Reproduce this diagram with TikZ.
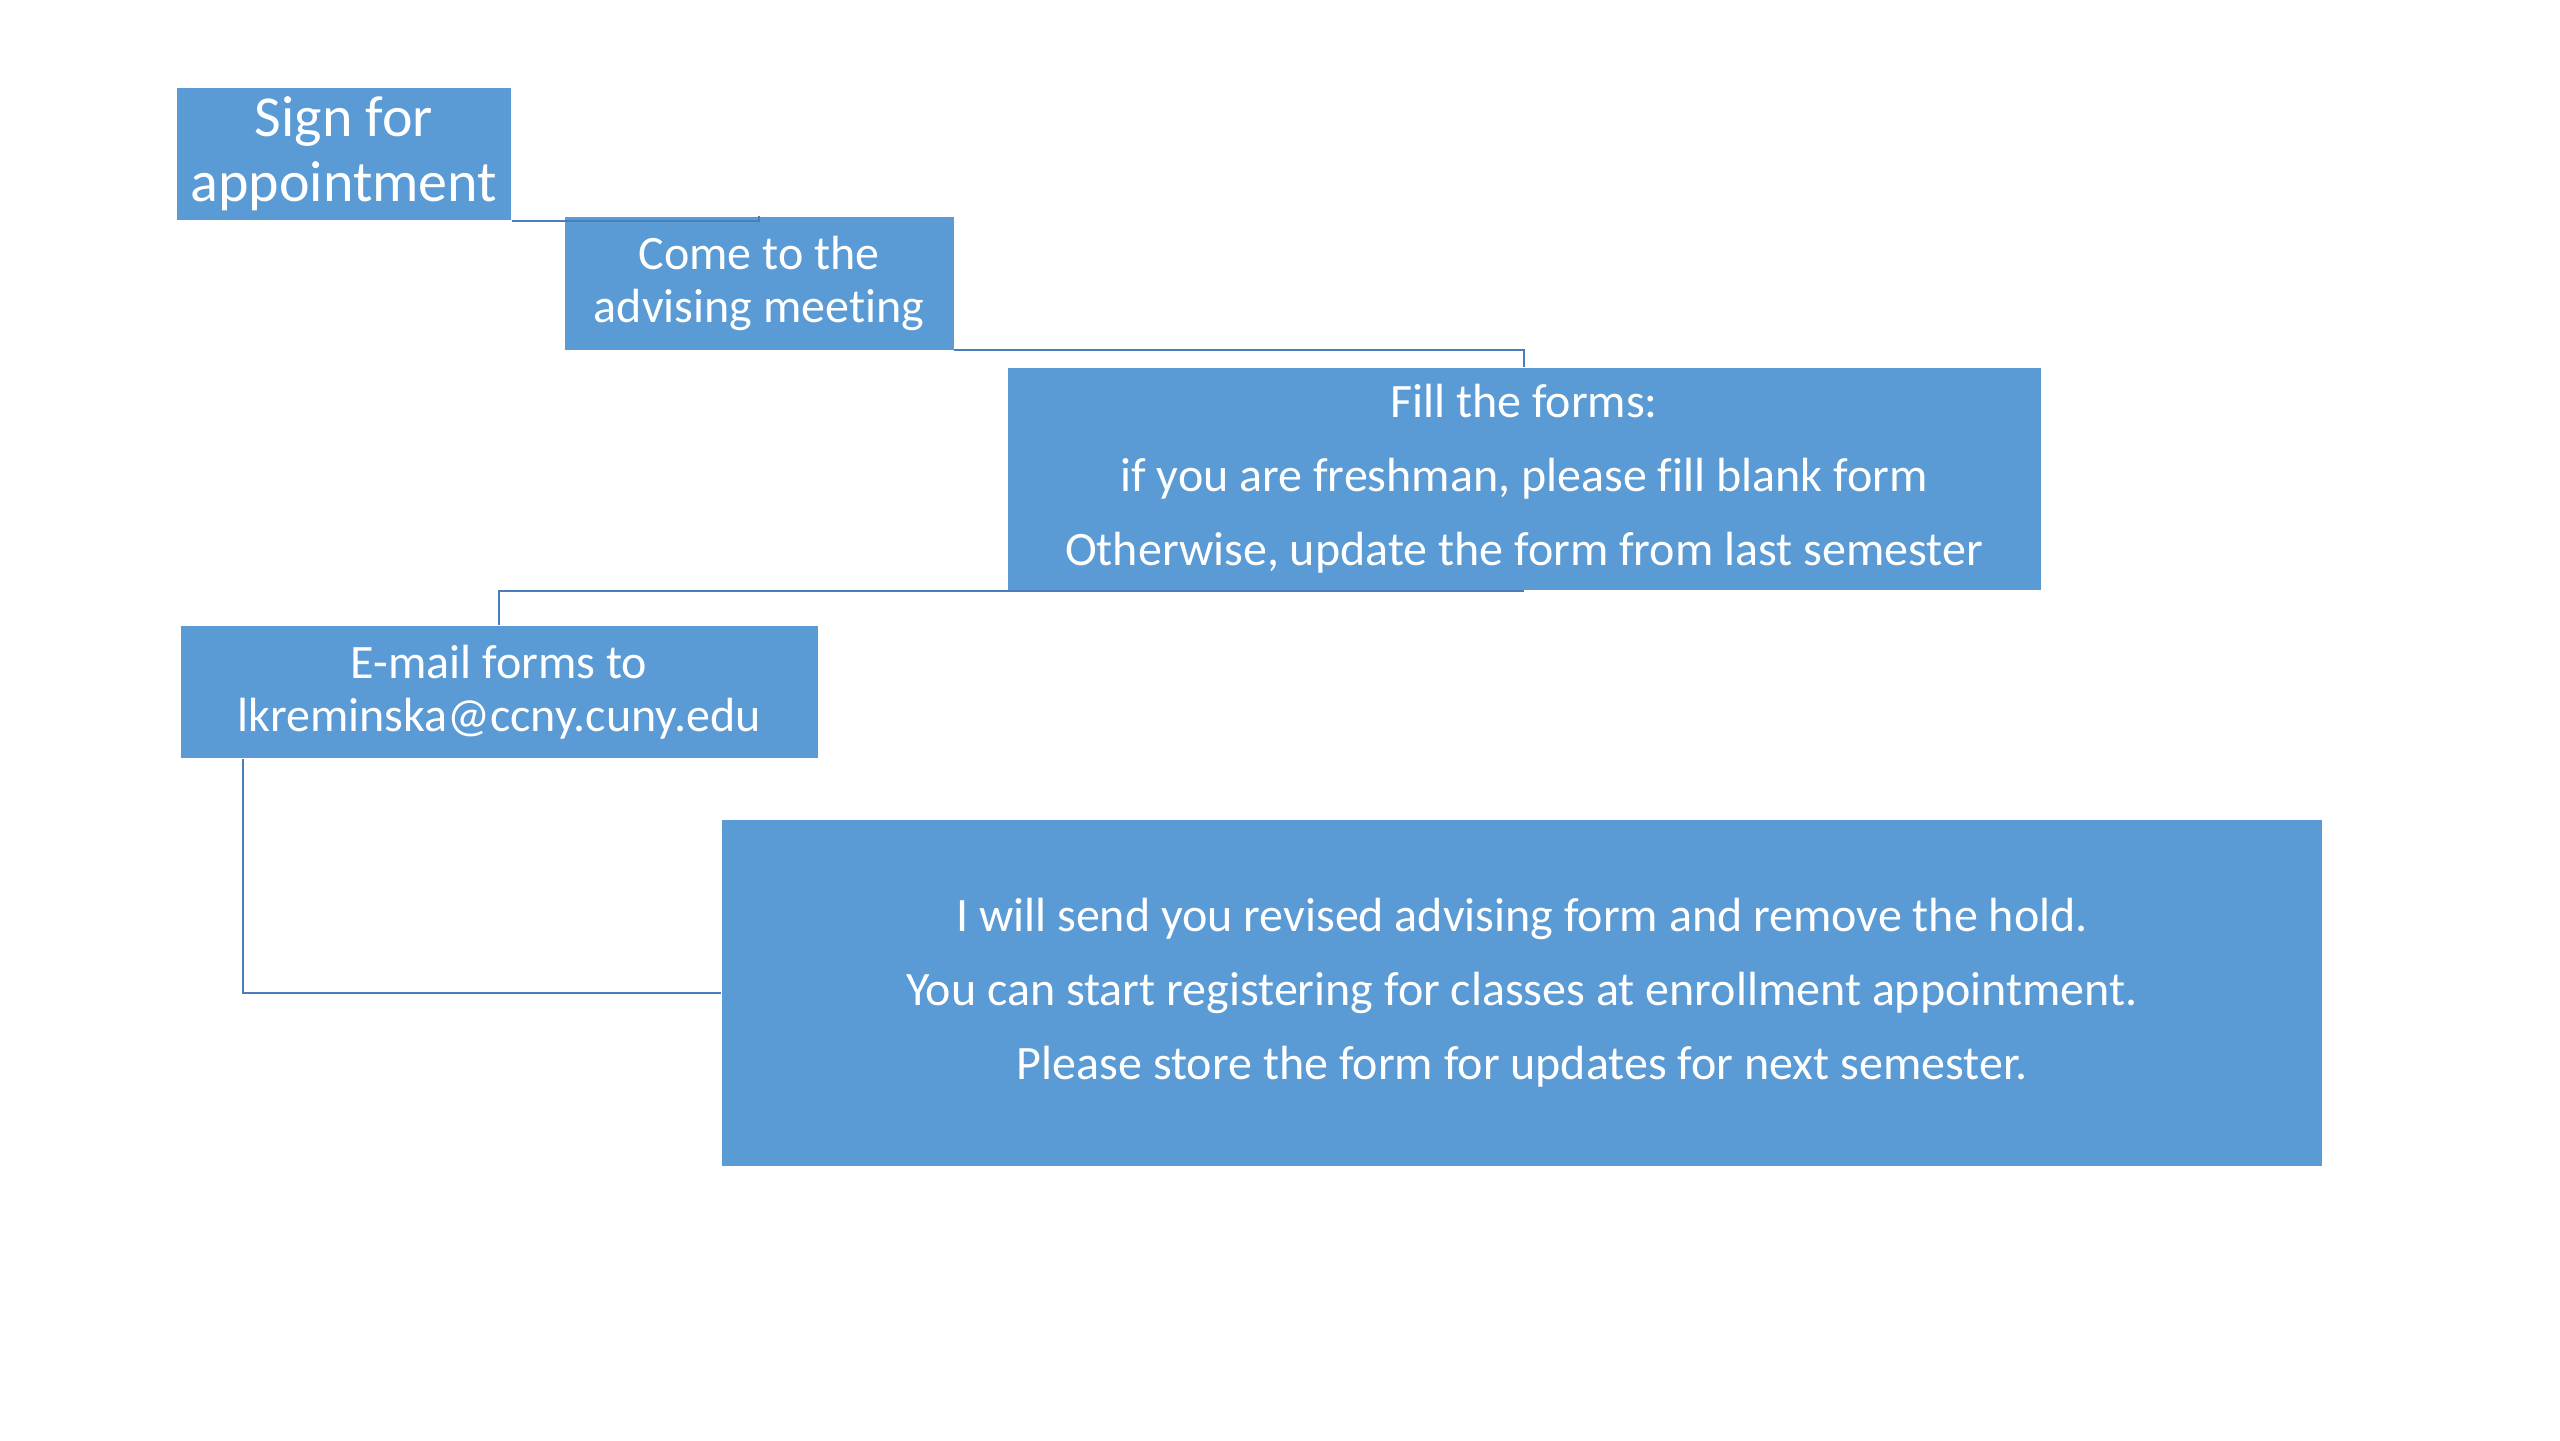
\documentclass[tikz,border=0pt]{standalone}
\usepackage{fontspec}
\setmainfont{Carlito}[Ligatures=NoCommon]
\usetikzlibrary{positioning}
\definecolor{CBlue}{HTML}{5B9BD5}
\definecolor{CLine}{HTML}{4A7EBB}
\tikzset{
    stepblock/.style={rectangle, fill=CBlue, text=white, align=center, inner sep=0pt, font=\fontsize{12}{13.25}\selectfont},
    wideblock/.style={stepblock, font=\fontsize{12}{18.5}\selectfont},
    flatline/.style={draw=CLine, line width=0.55pt}
}

\begin{document}
\begin{tikzpicture}[x=0.25pt, y=-0.25pt]
    \useasboundingbox (0,0) rectangle (2560,1440);
    % Nodes
    \node[stepblock, minimum width=83.5pt, minimum height=33pt, font=\fontsize{14.5}{16.25}\selectfont] (sign) at (344,154) {Sign for\\appointment};
    \node[stepblock, minimum width=97.25pt, minimum height=33.25pt] (meet) at (759,283) {Come to the\\advising meeting};
    \node[wideblock, minimum width=258.25pt, minimum height=55.5pt] (forms) at (1524,479) {Fill the forms:\\if you are freshman, please fill blank form\\Otherwise, update the form from last semester};
    \node[stepblock, minimum width=159.25pt, minimum height=33pt] (email) at (499,692) {E-mail forms to\\lkreminska@ccny.cuny.edu};
    \node[wideblock, minimum width=400pt, minimum height=86.5pt] (hold) at (1522,993) {I will send you revised advising form and remove the hold.\\You can start registering for classes at enrollment appointment.\\Please store the form for updates for next semester.};

    % Paths
    \draw[flatline] (sign.south east) -| (meet.north);
    \draw[flatline] (meet.south east) -| (forms.north);
    \draw[flatline] (forms.south) -| (email.north);
    \draw[flatline] ([xshift=15.75pt]email.south west) |- (hold.west);
\end{tikzpicture}
\end{document}
